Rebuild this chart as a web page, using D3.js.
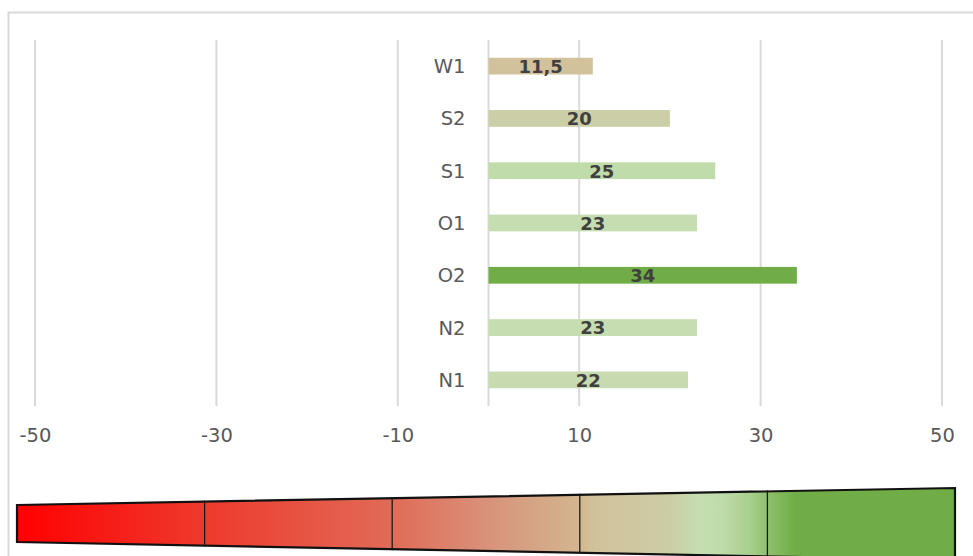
<!DOCTYPE html>
<html>
<head>
<meta charset="utf-8">
<script src="https://cdn.jsdelivr.net/npm/d3@7/dist/d3.min.js"></script>
<style>
  html, body { margin: 0; padding: 0; background: #ffffff; }
  svg { display: block; }
</style>
</head>
<body>
<svg id="chart" width="973" height="556"></svg>
<script>
// Categories (top to bottom) and their values
const categories = ["W1", "S2", "S1", "O1", "O2", "N2", "N1"];
const values = [11.5, 20, 25, 23, 34, 23, 22];
const valueLabels = ["11,5", "20", "25", "23", "34", "23", "22"];

// Axis ticks
const tickValues = [-50, -30, -10, 10, 30, 50];
const tickLabels = ["-50", "-30", "-10", "10", "30", "50"];

// Colour ramp (value -> colour), shared by the bars and the legend strip
const colorDomain = [-50, -30, -10, 0, 10, 11.5, 20, 22.5, 25, 28, 30, 33, 50];
const colorRange = ["#FF0000", "#EE3A2D", "#E06B57", "#D9917A", "#D2B690", "#D1C29B",
                    "#CBCEA6", "#C6DDB2", "#C0DCAB", "#A9D08F", "#8FC06C", "#70AD47", "#70AD47"];

// Legend divisions
const legendDomain = [-50, 50];
const legendDividers = [-30, -10, 10, 30];

const svg = d3.select("#chart");
const FONT = "'DejaVu Sans', Verdana, sans-serif";

// Chart frame
svg.append("rect")
  .attr("x", 8.5).attr("y", 12.5)
  .attr("width", 1000).attr("height", 600)
  .attr("fill", "#ffffff")
  .attr("stroke", "#D9D9D9").attr("stroke-width", 2);

const x = d3.scaleLinear().domain([-50, 50]).range([35, 942]);
const y = d3.scaleBand().domain(categories).range([40, 406])
  .paddingInner(0.68).paddingOuter(0.34);
const color = d3.scaleLinear().domain(colorDomain).range(colorRange);

const plotTop = 40, plotBottom = 406;

// Vertical gridlines
svg.append("g").selectAll("line")
  .data(tickValues)
  .join("line")
  .attr("x1", d => x(d)).attr("x2", d => x(d))
  .attr("y1", plotTop).attr("y2", plotBottom)
  .attr("stroke", "#D9D9D9").attr("stroke-width", 2);

// Zero (category) axis line
svg.append("line")
  .attr("x1", x(0)).attr("x2", x(0))
  .attr("y1", plotTop).attr("y2", plotBottom)
  .attr("stroke", "#D9D9D9").attr("stroke-width", 2);

// Bottom value axis labels
const xAxis = d3.axisBottom(x)
  .tickValues(tickValues)
  .tickFormat((d, i) => tickLabels[i])
  .tickSize(0).tickPadding(0);
const gx = svg.append("g").attr("transform", "translate(0,427)").call(xAxis);
gx.select(".domain").remove();
gx.selectAll("text")
  .attr("dy", null).attr("y", 15)
  .attr("font-family", FONT).attr("font-size", 19.5)
  .attr("fill", "#595959");

// Bars
svg.append("g").selectAll("rect")
  .data(values)
  .join("rect")
  .attr("x", x(0))
  .attr("y", (d, i) => y(categories[i]))
  .attr("width", d => x(d) - x(0))
  .attr("height", y.bandwidth())
  .attr("fill", d => color(d));

// Category labels to the left of the zero line
const yAxis = d3.axisLeft(y).tickSize(0).tickPadding(0);
const gy = svg.append("g").attr("transform", `translate(${x(0) - 23},0)`).call(yAxis);
gy.select(".domain").remove();
gy.selectAll("text")
  .attr("dy", "0.36em")
  .attr("font-family", FONT).attr("font-size", 19.5)
  .attr("fill", "#595959");

// Value labels centred in each bar
svg.append("g").selectAll("text")
  .data(values)
  .join("text")
  .attr("x", d => (x(0) + x(d)) / 2)
  .attr("y", (d, i) => y(categories[i]) + y.bandwidth() / 2)
  .attr("dy", "0.38em")
  .attr("text-anchor", "middle")
  .attr("font-family", FONT).attr("font-size", 18).attr("font-weight", "bold")
  .attr("fill", "#404040")
  .text((d, i) => valueLabels[i]);

// Colour legend: a widening strip filled with the same ramp
const lx = d3.scaleLinear().domain(legendDomain).range([17, 955]);
const topEdge = d3.scaleLinear().domain(legendDomain).range([505, 488]);
const bottomEdge = d3.scaleLinear().domain(legendDomain).range([542, 560]);

const defs = svg.append("defs");
const grad = defs.append("linearGradient")
  .attr("id", "ramp")
  .attr("gradientUnits", "userSpaceOnUse")
  .attr("x1", lx(legendDomain[0])).attr("x2", lx(legendDomain[1]))
  .attr("y1", 0).attr("y2", 0);
grad.selectAll("stop")
  .data(colorDomain)
  .join("stop")
  .attr("offset", d => (d - legendDomain[0]) / (legendDomain[1] - legendDomain[0]))
  .attr("stop-color", d => color(d));

const [a, b] = legendDomain;
const strip = [
  [lx(a), topEdge(a)], [lx(b), topEdge(b)],
  [lx(b), bottomEdge(b)], [lx(a), bottomEdge(a)]
];
svg.append("path")
  .attr("d", d3.line()(strip) + "Z")
  .attr("fill", "url(#ramp)")
  .attr("stroke", "#111111").attr("stroke-width", 2.2)
  .attr("stroke-linejoin", "miter");

svg.append("g").selectAll("line")
  .data(legendDividers)
  .join("line")
  .attr("x1", d => lx(d)).attr("x2", d => lx(d))
  .attr("y1", d => topEdge(d) - 1).attr("y2", d => bottomEdge(d) + 1)
  .attr("stroke", "#1a1a1a").attr("stroke-width", 1.3);
</script>
</body>
</html>
